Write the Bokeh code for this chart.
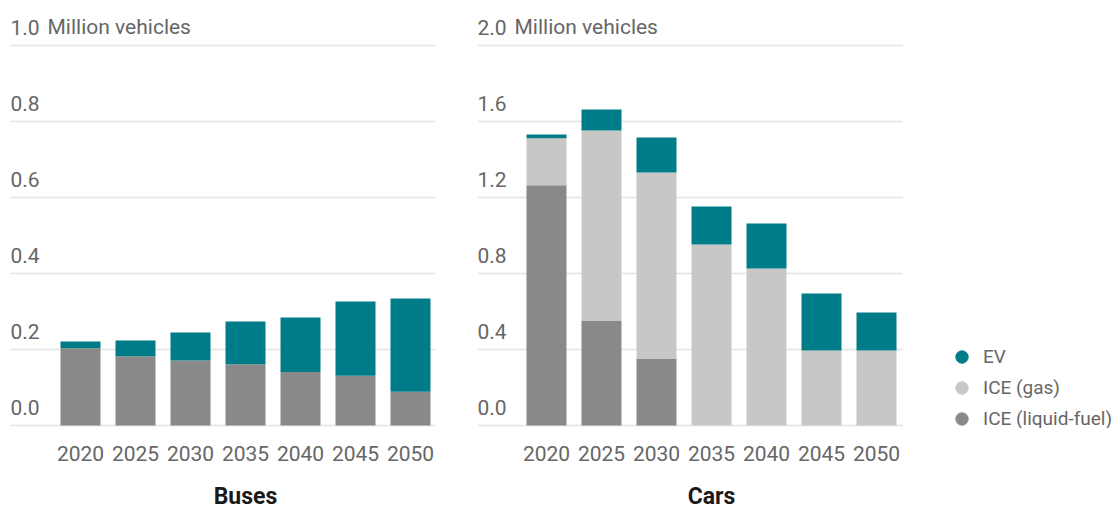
from bokeh.plotting import figure
from bokeh.layouts import row
from bokeh.models import (ColumnDataSource, FixedTicker, Range1d, LinearAxis,
                          Legend, LegendItem)
from bokeh.core.properties import value
from bokeh.embed import file_html
from bokeh.resources import INLINE

# ---------------- data ----------------
years = ["2020", "2025", "2030", "2035", "2040", "2045", "2050"]
bus_liquid = [0.203, 0.182, 0.171, 0.161, 0.141, 0.131, 0.089]
bus_gas = [0, 0, 0, 0, 0, 0, 0]
bus_ev = [0.018, 0.042, 0.074, 0.113, 0.143, 0.195, 0.245]
car_liquid = [1.265, 0.553, 0.353, 0, 0, 0, 0]
car_gas = [0.247, 1.000, 0.979, 0.953, 0.826, 0.395, 0.395]
car_ev = [0.020, 0.110, 0.184, 0.200, 0.237, 0.300, 0.200]
bus_ticks = [0.0, 0.2, 0.4, 0.6, 0.8, 1.0]
car_ticks = [0.0, 0.4, 0.8, 1.2, 1.6, 2.0]
series = ["ICE (liquid-fuel)", "ICE (gas)", "EV"]
unit_label = "Million vehicles"
panel_titles = ["Buses", "Cars"]

# ---------------- style ----------------
FONT = "Roboto"
COLORS = ["#898989", "#c7c7c6", "#007c88"]
TEXT = "#666666"
GRID = "#e3e3e3"
H = 512
SLOT = 55.0      # px per category
BAR_PX = 40.0
ZERO_FROM_BOTTOM = 3.0
FRAME_H = 428.0
LABEL_LIFT = -18.5


def panel(title, liquid, gas, ev, ticks, px_per_unit, width, bl, br, first_px):
    frame_w = width - bl - br
    x0 = -first_px / SLOT
    xr = Range1d(x0, x0 + frame_w / SLOT)
    yr = Range1d(-ZERO_FROM_BOTTOM / px_per_unit, (FRAME_H - ZERO_FROM_BOTTOM) / px_per_unit)
    p = figure(width=width, height=H, x_range=xr, y_range=yr,
               output_backend="svg", toolbar_location=None,
               y_axis_location=None, min_border_left=bl, min_border_right=br,
               min_border_top=0, min_border_bottom=int(H - FRAME_H))
    p.outline_line_color = None
    p.xgrid.grid_line_color = None
    p.ygrid.ticker = FixedTicker(ticks=ticks)
    p.ygrid.grid_line_color = GRID
    p.ygrid.grid_line_width = 1.5

    idx = list(range(len(years)))
    src = ColumnDataSource(dict(x=idx, liquid=liquid, gas=gas, ev=ev))
    p.vbar_stack(["liquid", "gas", "ev"], x="x", width=BAR_PX / SLOT,
                 color=COLORS, line_color=None, source=src)

    ax = p.xaxis[0]
    ax.ticker = FixedTicker(ticks=idx)
    ax.major_label_overrides = {i: y for i, y in enumerate(years)}
    ax.axis_line_color = None
    ax.major_tick_line_color = None
    ax.minor_tick_line_color = None
    ax.major_label_text_font = FONT
    ax.major_label_text_font_size = "21px"
    ax.major_label_text_color = TEXT
    ax.major_label_standoff = 11

    # panel title as a centred label under the bars
    mid = (len(years) - 1) / 2
    tax = LinearAxis(ticker=FixedTicker(ticks=[mid]),
                     major_label_overrides={mid: title},
                     axis_line_color=None, major_tick_line_color=None,
                     minor_tick_line_color=None,
                     major_label_text_font=FONT, major_label_text_font_size="23px",
                     major_label_text_font_style="bold",
                     major_label_text_color="#1a1a1a", major_label_standoff=13)
    p.add_layout(tax, "below")

    labels = [f"{t:.1f}" for t in ticks]
    tsrc = ColumnDataSource(dict(x=[xr.start] * len(ticks), y=ticks, t=labels))
    p.text(x="x", y="y", text="t", source=tsrc, text_font=value(FONT),
           text_font_size="21px", text_color=TEXT, text_baseline="alphabetic",
           text_align="left", y_offset=LABEL_LIFT)
    p.text(x=[xr.start], y=[ticks[-1]], text=[unit_label], text_font=value(FONT),
           text_font_size="21px", text_color=TEXT, text_baseline="alphabetic",
           text_align="left", y_offset=LABEL_LIFT, x_offset=37)
    return p


p1 = panel(panel_titles[0], bus_liquid, bus_gas, bus_ev, bus_ticks, 380.0, 477, 10, 42, 70)
p2 = panel(panel_titles[1], car_liquid, car_gas, car_ev, car_ticks, 190.0, 426, 0, 0, 69)

# legend panel
p3 = figure(width=217, height=H, x_range=Range1d(0, 1), y_range=Range1d(0, 1),
            output_backend="svg", toolbar_location=None,
            x_axis_location=None, y_axis_location=None,
            min_border_left=0, min_border_right=0, min_border_top=0, min_border_bottom=0)
p3.outline_line_color = None
p3.grid.grid_line_color = None
items = []
for name, c in zip(series, COLORS):
    r = p3.scatter(x=[0.5], y=[0.5], marker="circle", fill_color=c, line_color=c,
                   visible=False)
    items.append(LegendItem(label=name, renderers=[r]))
legend = Legend(items=list(reversed(items)), location=(42, -5.5),
                glyph_width=33, glyph_height=31, spacing=0, padding=0, margin=0,
                label_standoff=5, label_height=31,
                label_text_font=FONT, label_text_font_size="19px",
                label_text_color=TEXT, border_line_color=None,
                background_fill_alpha=0, inactive_fill_alpha=0)
p3.add_layout(legend)

layout = row(p1, p2, p3)
open("out.html", "w").write(file_html(layout, INLINE))
